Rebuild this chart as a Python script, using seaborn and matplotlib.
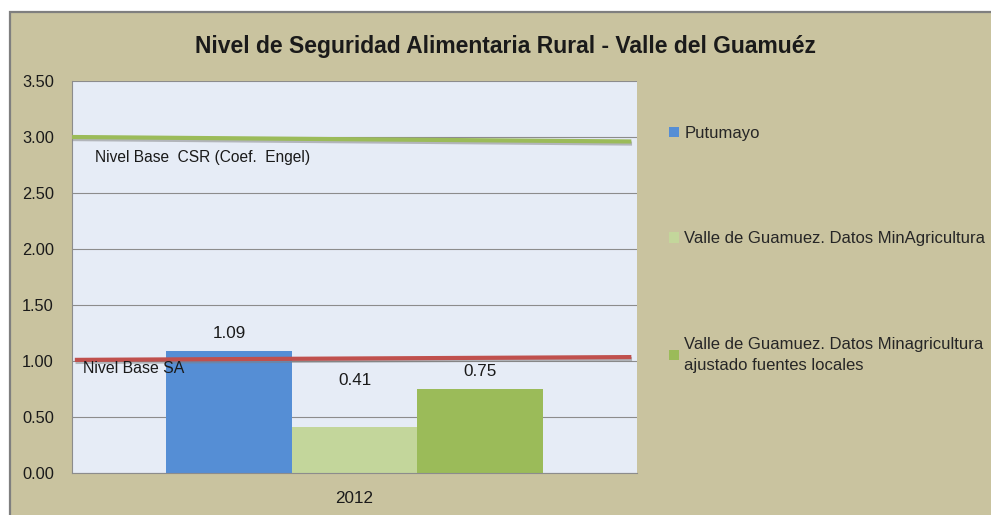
import numpy as np
import pandas as pd
import matplotlib
matplotlib.use("Agg")
import matplotlib.pyplot as plt
import matplotlib.patheffects as pe
from matplotlib.patches import Rectangle
import seaborn as sns

# -------------------------------------------------------
# Data
# -------------------------------------------------------

years = ["2012"]
series = [
    "Putumayo",
    "Valle de Guamuez. Datos MinAgricultura",
    "Valle de Guamuez. Datos Minagricultura\najustado fuentes locales",
]
values = [1.09, 0.41, 0.75]
bar_colors = ["#558ED5", "#C3D69B", "#9BBB59"]

# reference lines (left end, right end)
csr_line = [3.00, 2.96]
sa_line = [1.01, 1.035]
csr_text = "Nivel Base  CSR (Coef.  Engel)"
sa_text = "Nivel Base SA"

yticks = [0.0, 0.5, 1.0, 1.5, 2.0, 2.5, 3.0, 3.5]

df = pd.DataFrame({
    "year": years * len(series),
    "serie": series,
    "valor": values,
})

# -------------------------------------------------------
# Style
# -------------------------------------------------------

sns.set_theme(style="white")
plt.rcParams["font.family"] = ["Liberation Sans", "DejaVu Sans"]

khaki = "#C9C39F"
panel = "#E6ECF6"
grid_gray = "#8C8C8C"
txt = "#1a1a1a"

fig = plt.figure(figsize=(9.91, 5.15), dpi=100)
fig.patch.set_facecolor("white")

# outer chart frame
fig.patches.append(Rectangle(
    (10 / 991, -0.01), 1.0, 1 - 12 / 515 + 0.01,
    transform=fig.transFigure, facecolor=khaki,
    edgecolor="#7F7F7F", linewidth=1.6, zorder=-5
))

ax = fig.add_axes([72 / 991, 1 - 473 / 515, 565 / 991, 392 / 515])
ax.set_facecolor(panel)
ax.patch.set_edgecolor("none")

sns.barplot(
    data=df,
    x="year",
    y="valor",
    hue="serie",
    palette=bar_colors,
    width=0.666,
    saturation=1,
    linewidth=0,
    edgecolor="none",
    ax=ax,
    zorder=2,
)

ax.set_xlim(-0.5, 0.5)
ax.set_ylim(0, 3.5)
ax.set_yticks(yticks)
ax.set_yticklabels([f"{v:.2f}" for v in yticks])
ax.xaxis.grid(False, which="both")
ax.yaxis.grid(True, color=grid_gray, linewidth=0.8)
ax.set_axisbelow(True)
ax.set_xlabel("")
ax.set_ylabel("")

for side in ["top", "right"]:
    ax.spines[side].set_visible(False)
for side in ["left", "bottom"]:
    ax.spines[side].set_color(grid_gray)
    ax.spines[side].set_linewidth(0.8)

ax.tick_params(axis="y", length=5, color=grid_gray, labelsize=11.8, pad=8,
               labelcolor=txt)
ax.tick_params(axis="x", which="major", length=0, labelsize=12.3, pad=13,
               labelcolor=txt)
ax.set_xticks([-0.5, 0.5], minor=True)
ax.tick_params(axis="x", which="minor", length=6, color=grid_gray)

# bar labels
pads = [7, 28, 7]
for cont, p in zip(ax.containers, pads):
    ax.bar_label(cont, fmt="%.2f", padding=p, fontsize=12.3, color=txt)

# reference lines with a soft shadow
shadow = [pe.SimpleLineShadow(offset=(0.5, -1.5), shadow_color="#7F7F7F", alpha=0.5),
          pe.Normal()]
ax.plot([-0.5, 0.49], csr_line, color="#9BBB59", linewidth=3,
        solid_capstyle="butt", path_effects=shadow, zorder=4)
ax.plot([-0.495, 0.49], sa_line, color="#C0504D", linewidth=3,
        solid_capstyle="butt", path_effects=shadow, zorder=4)

ax.text(-0.459, 2.82, csr_text, fontsize=11.2, va="center", ha="left",
        color=txt, zorder=5)
ax.text(-0.48, 0.93, sa_text, fontsize=11.4, va="center", ha="left",
        color=txt, zorder=5)

# legend on the right
handles, labels = ax.get_legend_handles_labels()
leg = ax.legend(
    handles, labels,
    loc="upper left",
    bbox_to_anchor=(662 / 991, 1 - 119 / 515),
    bbox_transform=fig.transFigure,
    frameon=False,
    fontsize=12,
    handlelength=0.6,
    handleheight=0.6,
    handletextpad=0.35,
    labelspacing=5.45,
    borderaxespad=0,
)
for t in leg.get_texts():
    t.set_linespacing(1.45)

fig.suptitle("Nivel de Seguridad Alimentaria Rural - Valle del Guamuéz",
             x=505 / 991, y=1 - 46 / 515, va="center",
             fontsize=16.5, fontweight="bold", color=txt)

fig.savefig("out.png", dpi=100, facecolor=fig.get_facecolor())
plt.close(fig)
